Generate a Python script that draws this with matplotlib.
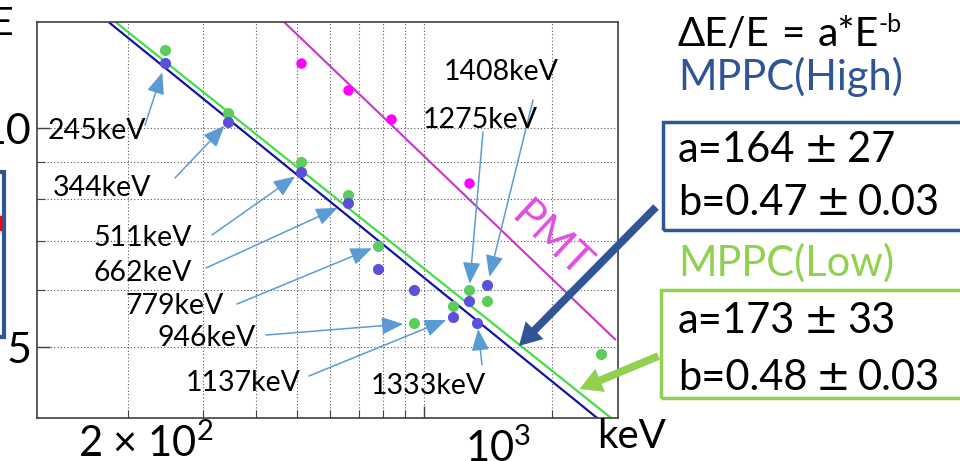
import matplotlib
matplotlib.use('Agg')
import matplotlib.pyplot as plt
from matplotlib.patches import Rectangle, FancyArrowPatch
from matplotlib.ticker import NullFormatter

plt.rcParams['font.family'] = ['Lato', 'DejaVu Sans']
plt.rcParams['mathtext.default'] = 'regular'

W, H = 960, 461

# energy resolution (%) vs gamma energy (keV)
high_e = [245, 344, 511, 662, 779, 946, 1165, 1275, 1333, 1408]
high_res = [12.3, 10.2, 8.7, 7.9, 6.4, 6.0, 5.5, 5.8, 5.4, 6.1]
low_e = [245, 344, 511, 662, 779, 946, 1165, 1275, 1408, 2614]
low_res = [12.8, 10.5, 9.0, 8.1, 6.9, 5.4, 5.7, 6.0, 5.8, 4.9]
pmt_e = [511, 662, 835, 1275]
pmt_res = [12.3, 11.3, 10.3, 8.4]

# fitted a*E^-b lines, read where they meet the frame
high_fit_e = [181, 2554]
high_fit_res = [13.96, 4.0]
low_fit_e = [188, 2755]
low_fit_res = [13.96, 4.0]
pmt_fit_e = [469, 2816]
pmt_fit_res = [13.96, 5.13]

# fit results shown in the boxes
fit_a = ['a=164', 'a=173']
fit_a_err = ['27', '33']
fit_b = ['b=0.47', 'b=0.48']
fit_b_err = ['0.03', '0.03']

# peak labels: text, text centre (px), arrow tail (px), series, index, gap (px)
labels = [
    ('245keV', 97, 131, 145, 125, 'high', 0, 10),
    ('344keV', 102, 188, 175, 178, 'high', 1, 5),
    ('511keV', 143, 238, 212, 235, 'high', 2, 7),
    ('662keV', 143, 273, 206, 268, 'high', 3, 12),
    ('779keV', 175, 306, 237, 304, 'low', 4, 7),
    ('946keV', 207, 338, 266, 335, 'low', 5, 11),
    ('1137keV', 243, 383, 309, 376, 'high', 6, 7),
    ('1333keV', 428, 386, 482, 365, 'high', 8, 6),
    ('1275keV', 480, 120, 483, 132, 'low', 7, 6),
    ('1408keV', 501, 72, 533, 100, 'high', 9, 8),
]

fig = plt.figure(figsize=(W / 100, H / 100), dpi=100)
ax = fig.add_axes([37 / W, 1 - 418 / H, (618 - 37) / W, (418 - 22) / H])
ax.set_xscale('log')
ax.set_yscale('log')
ax.set_xlim(122, 2860)
ax.set_ylim(4, 14)

ax.set_xticks([1000])
ax.set_xticks([200, 300, 400, 500, 600, 700, 800, 900, 2000], minor=True)
ax.xaxis.set_major_formatter(NullFormatter())
ax.xaxis.set_minor_formatter(NullFormatter())
ax.set_yticks([5, 10])
ax.set_yticklabels(['5', '10'])
ax.set_yticks([6, 7, 8, 9], minor=True)
ax.yaxis.set_minor_formatter(NullFormatter())
ax.tick_params(which='both', direction='in', colors='#404040', labelcolor='black')
ax.tick_params(which='major', length=9, width=1)
ax.tick_params(which='minor', length=6, width=0.8)
ax.tick_params(axis='y', labelsize=31, pad=4)
ax.grid(which='both', color='#555555', linestyle=(0, (1, 2)), linewidth=0.8)
for s in ax.spines.values():
    s.set_color('#404040')
    s.set_linewidth(1.2)

ax.plot(pmt_fit_e, pmt_fit_res, color='#cc33cc', lw=1.5)
ax.plot(low_fit_e, low_fit_res, color='#44dd44', lw=1.6)
ax.plot(high_fit_e, high_fit_res, color='#1414a0', lw=1.6)

ax.plot(pmt_e, pmt_res, 'o', color='#ff00ff', ms=7.5, mec='none')
ax.plot(low_e, low_res, 'o', color='#5ccc5c', ms=8, mec='none')
ax.plot(high_e, high_res, 'o', color='#5a50da', ms=8, mec='none')

series = {'high': (high_e, high_res), 'low': (low_e, low_res)}
for text, tx, ty, ax_, ay_, key, i, gap in labels:
    xs, ys = series[key]
    fig.text(tx / W, 1 - ty / H, text, fontsize=20.5, ha='center', va='center')
    ax.annotate('', xy=(xs[i], ys[i]), xycoords='data',
                xytext=(ax_ / W, 1 - ay_ / H), textcoords='figure fraction',
                arrowprops=dict(arrowstyle='-|>,head_length=1.1,head_width=0.45',
                                color='#5b9bd5', lw=1.1, shrinkA=0,
                                shrinkB=gap * 0.72, mutation_scale=12))

fig.text(551 / W, 1 - 240 / H, 'PMT', color='#e24ce2', fontsize=31,
         rotation=-43, ha='center', va='center')


def slide_text(x, y, s, **kw):
    # x = left edge, y = baseline, both in pixels from the top-left corner
    kw.setdefault('ha', 'left')
    return fig.text(x / W, 1 - y / H, s, va='baseline', **kw)


# slide texts around the plot
fig.text(14 / W, 1 - 24 / H, 'ΔE/E', fontsize=28, ha='right', va='center')
fig.text(146 / W, 1 - 443 / H, r'2 × 10$^2$', fontsize=30, ha='center', va='center')
fig.text(498 / W, 1 - 448 / H, r'10$^3$', fontsize=30, ha='center', va='center')
slide_text(597, 448, 'keV', fontsize=29)

slide_text(678, 46, 'ΔE/E', fontsize=29)
slide_text(782, 46, '=', fontsize=29)
slide_text(818, 46, 'a*E', fontsize=29.5)
slide_text(879, 32, '-b', fontsize=18)

slide_text(678, 90, 'MPPC(High)', fontsize=30, color='#2f5597')
slide_text(678, 276, 'MPPC(Low)', fontsize=30, color='#92d050')

for k, (ya, yb) in enumerate([(162, 215), (333, 390)]):
    slide_text(678, ya, fit_a[k], fontsize=30)
    slide_text(821, ya, '±', fontsize=30, ha='center', family='DejaVu Sans')
    slide_text(847, ya, fit_a_err[k], fontsize=30)
    slide_text(678, yb, fit_b[k], fontsize=30)
    slide_text(833, yb, '±', fontsize=30, ha='center', family='DejaVu Sans')
    slide_text(858, yb, fit_b_err[k], fontsize=30)

fig.patches.append(Rectangle((663 / W, 1 - 230 / H), 400 / W, 108 / H, fill=False,
                             ec='#2f5597', lw=2.5, transform=fig.transFigure))
fig.patches.append(Rectangle((661 / W, 1 - 398 / H), 400 / W, 108 / H, fill=False,
                             ec='#92d050', lw=2.5, transform=fig.transFigure))
fig.patches.append(Rectangle((-200 / W, 1 - 337 / H), 204 / W, 165 / H, fill=False,
                             ec='#2f5597', lw=3, transform=fig.transFigure))
fig.patches.append(Rectangle((-4 / W, 1 - 230 / H), 5 / W, 14 / H, color='red',
                             transform=fig.transFigure))

fig.patches.append(FancyArrowPatch((658 / W, 1 - 205 / H), (517 / W, 1 - 348 / H),
                                   arrowstyle='simple,head_length=0.8,head_width=0.9,tail_width=0.28',
                                   mutation_scale=20, color='#2f5597', lw=0,
                                   transform=fig.transFigure))
fig.patches.append(FancyArrowPatch((661 / W, 1 - 355 / H), (577 / W, 1 - 390 / H),
                                   arrowstyle='simple,head_length=0.8,head_width=0.9,tail_width=0.28',
                                   mutation_scale=20, color='#92d050', lw=0,
                                   transform=fig.transFigure))

fig.savefig('out.png', dpi=100)
